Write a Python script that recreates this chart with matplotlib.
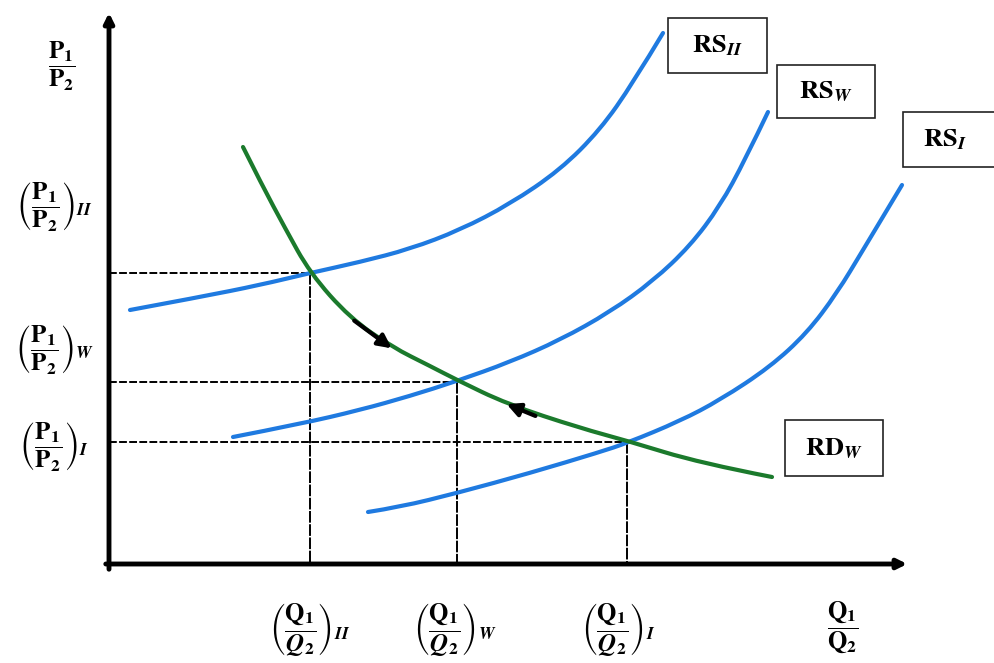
import matplotlib.pyplot as plt
from matplotlib.path import Path
from matplotlib.patches import PathPatch, Rectangle

plt.rcParams['mathtext.fontset'] = 'stix'

# curve points (x to the right, y downwards, image units)
rs2_x = [130, 200, 260, 310, 360, 410, 460, 510, 560, 600, 633, 663]
rs2_y = [310, 297, 285, 273, 262, 249, 230, 204, 170, 130, 83, 33]

rsw_x = [233, 300, 360, 410, 457, 510, 560, 610, 653, 690, 720, 745, 768]
rsw_y = [437, 424, 410, 396, 381, 362, 340, 312, 281, 246, 206, 160, 112]

rs1_x = [368, 400, 457, 530, 600, 627, 680, 720, 770, 807, 837, 863, 887, 902]
rs1_y = [512, 507, 493, 473, 452, 443, 421, 400, 367, 333, 293, 250, 210, 185]

rd_x = [243, 262, 285, 310, 350, 392, 430, 457, 507, 580, 628, 700, 772]
rd_y = [147, 185, 228, 273, 318, 347, 366, 380, 404, 428, 441, 463, 477]

# equilibrium points (x, y) for II, W, I
eq_x = [310, 457, 627]
eq_y = [273, 382, 442]

# adjustment arrows on RD_W: (tail, head)
arrows = [((352, 319), (394, 350)), ((538, 417), (504, 403))]

# label boxes: text, left, top, right, bottom
box_text = [r'$\mathbf{RS}_{\mathbfit{II}}$', r'$\mathbf{RS}_{\mathbfit{W}}$',
            r'$\mathbf{RS}_{\mathbfit{I}}$', r'$\mathbf{RD}_{\mathbfit{W}}$']
box_l = [668, 777, 903, 785]
box_t = [18, 65, 112, 420]
box_r = [767, 875, 1000, 883]
box_b = [73, 118, 167, 476]

x_axis_y = 564
y_axis_x = 109

fig = plt.figure(figsize=(9.94, 6.63), dpi=100)
ax = fig.add_axes([0, 0, 1, 1])
ax.set_xlim(0, 994)
ax.set_ylim(663, 0)
ax.axis('off')

blue = '#1f7ae0'
green = '#1b7a2c'


def smooth(xs, ys, color):
    # quadratic bezier pieces with the read points as control points
    pts = list(zip(xs, ys))
    verts = [pts[0]]
    codes = [Path.MOVETO]
    for i in range(1, len(pts) - 1):
        mid = ((pts[i][0] + pts[i + 1][0]) / 2, (pts[i][1] + pts[i + 1][1]) / 2)
        if i == len(pts) - 2:
            mid = pts[-1]
        verts += [pts[i], mid]
        codes += [Path.CURVE3, Path.CURVE3]
    ax.add_patch(PathPatch(Path(verts, codes), fc='none', ec=color, lw=3,
                           capstyle='round', zorder=3))


# axes with arrow heads
ax.annotate('', xy=(y_axis_x, 10), xytext=(y_axis_x, 572),
            arrowprops=dict(arrowstyle='-|>', lw=3.5, color='black', mutation_scale=14))
ax.annotate('', xy=(910, x_axis_y), xytext=(103, x_axis_y),
            arrowprops=dict(arrowstyle='-|>', lw=3.5, color='black', mutation_scale=14))

# guide lines
for ex, ey in zip(eq_x, eq_y):
    ax.plot([y_axis_x, ex], [ey, ey], color='black', lw=1.4, dashes=(4, 1.2))
    ax.plot([ex, ex], [ey, x_axis_y], color='black', lw=1.4, dashes=(6, 0.8))

smooth(rs2_x, rs2_y, blue)
smooth(rsw_x, rsw_y, blue)
smooth(rs1_x, rs1_y, blue)
smooth(rd_x, rd_y, green)

for tail, head in arrows:
    ax.annotate('', xy=head, xytext=tail, zorder=4,
                arrowprops=dict(arrowstyle='-|>', lw=3, color='black', mutation_scale=20))

# curve labels in boxes
for t, l, tp, r, b in zip(box_text, box_l, box_t, box_r, box_b):
    ax.add_patch(Rectangle((l, tp), r - l, b - tp, fc='white', ec='#222222', lw=1.2, zorder=5))
    cx = (l + r) / 2 if r <= 994 else l + 42
    ax.text(cx, (tp + b) / 2, t, fontsize=19, ha='center', va='center', zorder=6)

# axis labels
ax.text(62, 66, r'$\dfrac{\mathbf{P_1}}{\mathbf{P_2}}$', fontsize=18, ha='center', va='center')
ax.text(843, 628, r'$\dfrac{\mathbf{Q_1}}{\mathbf{Q_2}}$', fontsize=18, ha='center', va='center')

y_labels = [r'$\left(\dfrac{\mathbf{P_1}}{\mathbf{P_2}}\right)_{\mathbfit{II}}$',
            r'$\left(\dfrac{\mathbf{P_1}}{\mathbf{P_2}}\right)_{\mathbfit{W}}$',
            r'$\left(\dfrac{\mathbf{P_1}}{\mathbf{P_2}}\right)_{\mathbfit{I}}$']
y_label_pos = [207, 350, 447]
for lab, yy in zip(y_labels, y_label_pos):
    ax.text(54, yy, lab, fontsize=18, ha='center', va='center')

x_labels = [r'$\left(\dfrac{\mathbf{Q_1}}{\mathbfit{Q}_\mathbf{2}}\right)_{\mathbfit{II}}$',
            r'$\left(\dfrac{\mathbf{Q_1}}{\mathbfit{Q}_\mathbf{2}}\right)_{\mathbfit{W}}$',
            r'$\left(\dfrac{\mathbf{Q_1}}{\mathbfit{Q}_\mathbf{2}}\right)_{\mathbfit{I}}$']
x_label_pos = [310, 455, 618]
for lab, xx in zip(x_labels, x_label_pos):
    ax.text(xx, 630, lab, fontsize=18, ha='center', va='center')

fig.savefig('out.png', dpi=100)
